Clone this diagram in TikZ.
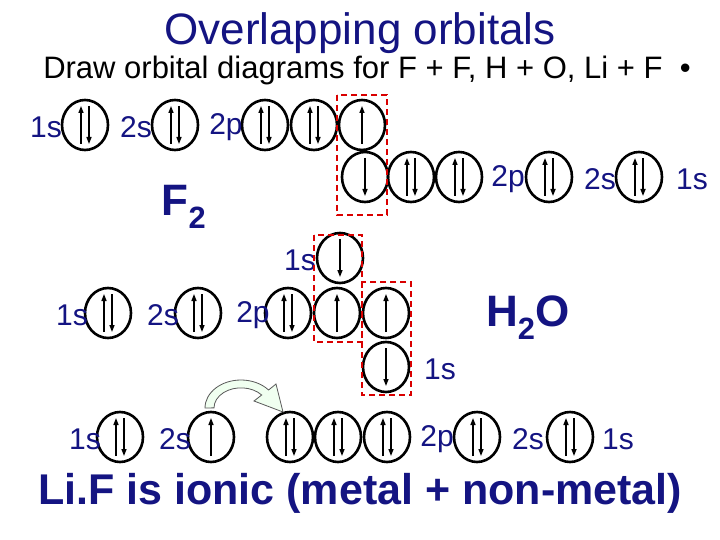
\documentclass[tikz,border=0pt]{standalone}
\usepackage{fontspec}
\setmainfont{Liberation Sans}
\usetikzlibrary{arrows.meta,shapes.geometric}
\definecolor{nav}{RGB}{20,20,130}
\begin{document}
\begin{tikzpicture}[x=1pt,y=-1pt,
 orb/.style={draw,line width=2.6pt,ellipse,minimum width=46pt,minimum height=50pt,inner sep=0pt},
 lab/.style={text=nav,font=\fontsize{30}{30}\selectfont,inner sep=0pt},
 sp/.style={-{Triangle[length=7pt,width=5pt]},line width=1.5pt},
 redbox/.style={draw=red!85!black,dashed,dash pattern=on 6pt off 4pt,line width=2.4pt}]
\useasboundingbox (0,0) rectangle (720,540);
\fill[white] (0,0) rectangle (720,540);
\newcommand{\pr}[2]{\node[orb] (#1) at #2 {};
 \draw[sp] ([xshift=-4pt,yshift=-19pt]#1.center) -- ([xshift=-4pt,yshift=19pt]#1.center);
 \draw[sp] ([xshift=4pt,yshift=19pt]#1.center) -- ([xshift=4pt,yshift=-19pt]#1.center);}
\newcommand{\up}[2]{\node[orb] (#1) at #2 {};
 \draw[sp] ([yshift=-19pt]#1.center) -- ([yshift=19pt]#1.center);}
\newcommand{\dn}[2]{\node[orb] (#1) at #2 {};
 \draw[sp] ([yshift=19pt]#1.center) -- ([yshift=-19pt]#1.center);}
\node[text=nav,font=\fontsize{44}{44}\selectfont] (title) at (360,33) {Overlapping orbitals};
\node[font=\fontsize{31}{31}\selectfont] (sub) at (367,70) {Draw orbital diagrams for F + F, H + O, Li + F \ \textbullet};
% F2
\pr{a1}{(85,125)} \pr{a2}{(175,125)} \pr{a3}{(265,125)} \pr{a4}{(314,125)} \up{a5}{(362,125)}
\node[lab] (l1) at (46,127) {1s}; \node[lab] (l2) at (136,127) {2s}; \node[lab] (l3) at (226,127) {2p};
\dn{b1}{(365,177)} \pr{b2}{(411,177)} \pr{b3}{(459,177)} \pr{b4}{(549,177)} \pr{b5}{(639,177)}
\node[lab] (l4) at (508,179) {2p}; \node[lab] (l5) at (600,179) {2s}; \node[lab] (l6) at (692,179) {1s};
\draw[redbox] (337,95) rectangle (387,215);
\node[text=nav,font=\bfseries\fontsize{44}{44}\selectfont] (f2) at (184,207) {F\textsubscript{2}};
% H2O
\dn{h1}{(340,258)} \node[lab] (l7) at (300,260) {1s};
\pr{c1}{(108,313)} \pr{c2}{(198,313)} \pr{c3}{(288,313)} \up{c4}{(337,313)} \up{c5}{(386,313)}
\node[lab] (l8) at (72,315) {1s}; \node[lab] (l9) at (163,315) {2s}; \node[lab] (l10) at (253,315) {2p};
\dn{h2}{(386,367)} \node[lab] (l11) at (440,369) {1s};
\draw[redbox] (314,235) rectangle (362,342);
\draw[redbox] (362,282) rectangle (411,395);
\node[text=nav,font=\bfseries\fontsize{44}{44}\selectfont] (h2o) at (528,318) {H\textsubscript{2}O};
% LiF
\pr{d1}{(120,437)} \up{d2}{(211,437)} \pr{d3}{(290,437)} \pr{d4}{(338,437)} \pr{d5}{(387,437)}
\pr{d6}{(477,437)} \pr{d7}{(570,437)}
\node[lab] (l12) at (85,439) {1s}; \node[lab] (l13) at (175,439) {2s};
\node[lab] (l14) at (437,439) {2p}; \node[lab] (l15) at (528,439) {2s}; \node[lab] (l16) at (618,439) {1s};
\fill[green!6!white,draw=gray!70!black,line width=0.8pt]
 (205,408) arc[start angle=180,end angle=40,x radius=36pt,y radius=28pt]
 -- (276,384) -- (283,412) -- (254,401) -- (261.7,395)
 arc[start angle=40,end angle=180,x radius=27pt,y radius=20pt] -- cycle;
\node[text=nav,font=\bfseries\fontsize{43}{43}\selectfont] (lif) at (360,493) {Li.F is ionic (metal + non-metal)};
\end{tikzpicture}
\end{document}
